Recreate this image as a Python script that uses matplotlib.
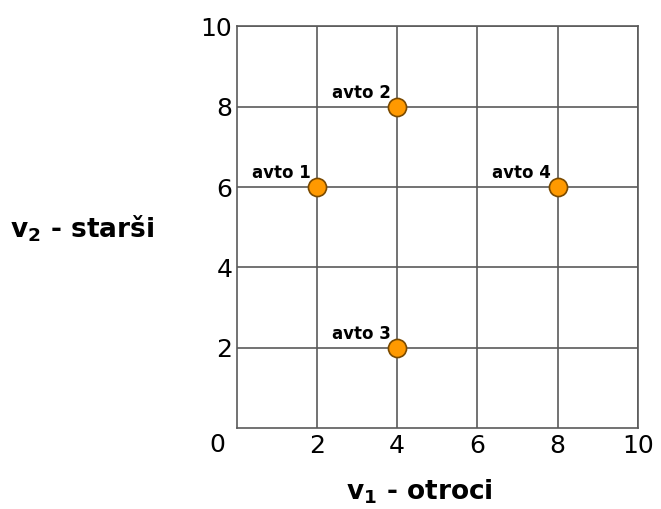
import matplotlib
matplotlib.use("Agg")
import matplotlib.pyplot as plt

names = ["avto 1", "avto 2", "avto 3", "avto 4"]
v1 = [2, 4, 4, 8]
v2 = [6, 8, 2, 6]
xticks = [2, 4, 6, 8, 10]
yticks = [2, 4, 6, 8, 10]

plt.rcParams['font.family'] = ['DejaVu Sans']
plt.rcParams['mathtext.fontset'] = 'dejavusans'

fig = plt.figure(figsize=(6.61, 5.09), dpi=100)
ax = fig.add_axes([0.358, 0.1585, 0.607, 0.790])
ax.set_xlim(0, 10)
ax.set_ylim(0, 10)
gc = '#5a5a5a'
for t in xticks:
    ax.axvline(t, color=gc, lw=1.2, zorder=1)
for t in yticks:
    ax.axhline(t, color=gc, lw=1.2, zorder=1)
for s in ax.spines.values():
    s.set_color(gc)
    s.set_linewidth(1.2)
ax.set_xticks(xticks)
ax.set_yticks(yticks)
ax.tick_params(length=0, labelsize=18)
ax.tick_params(axis='x', pad=4)
ax.tick_params(axis='y', pad=3)
ax.text(-0.047, -0.041, "0", transform=ax.transAxes, ha='center', va='center', fontsize=18)

ax.scatter(v1, v2, s=170, color='#ff9900', edgecolor='#7a4a00', linewidth=1.2, zorder=3)
for n, x, y in zip(names, v1, v2):
    ax.annotate(n, (x, y), xytext=(-4.5, 6.5), textcoords='offset points',
                ha='right', va='baseline', fontsize=12, fontweight='bold')

fig.text(419, 509 - 500, r"$\mathbf{v_1}$ - otroci", ha='center', va='baseline',
         fontsize=19, fontweight='bold', transform=None)
fig.text(10, 509 - 238, r"$\mathbf{v_2}$ - starši", ha='left', va='baseline',
         fontsize=19, fontweight='bold', transform=None)

fig.savefig("out.png", dpi=100)
